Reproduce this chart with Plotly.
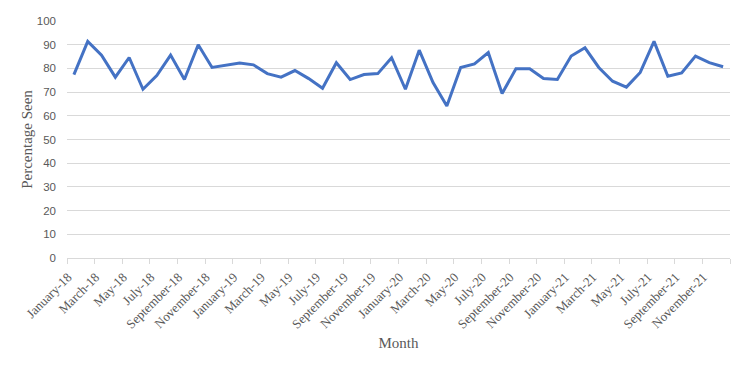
import plotly.graph_objects as go

month_names = ["January", "February", "March", "April", "May", "June", "July",
               "August", "September", "October", "November", "December"]
years = ["18", "19", "20", "21"]
months = [f"{m}-{y}" for y in years for m in month_names]

percentage_seen = [
    77.4, 91.4, 85.6, 76.3, 84.6, 71.2, 77.0, 85.6, 75.3, 90.0, 80.4, 81.2,
    82.3, 81.5, 77.8, 76.3, 79.1, 75.7, 71.6, 82.4, 75.3, 77.4, 77.8, 84.5,
    71.2, 87.7, 74.0, 64.1, 80.4, 81.9, 86.7, 69.4, 79.8, 79.8, 75.7, 75.3,
    85.2, 88.7, 80.4, 74.6, 72.1, 78.3, 91.4, 76.7, 78.1, 85.2, 82.4, 80.7,
]

y_ticks = list(range(0, 101, 10))

x_index = list(range(len(months)))
label_pos = x_index[::2]
label_text = months[::2]

fig = go.Figure()
fig.add_trace(go.Scatter(
    x=x_index, y=percentage_seen, mode="lines",
    line=dict(color="#4472C4", width=3),
    hoverinfo="skip", showlegend=False,
))

fig.update_layout(
    width=750, height=365,
    margin=dict(l=59, r=28, t=7, b=115),
    plot_bgcolor="white", paper_bgcolor="white",
    xaxis=dict(
        range=[-0.5, len(months) - 0.5],
        tickmode="array", tickvals=label_pos, ticktext=label_text,
        tickangle=-45, ticks="", showgrid=False, zeroline=False,
        showline=False, ticklabelstandoff=8, ticklabelshift=-6,
        tickfont=dict(family="Liberation Serif", size=13, color="#595959"),
        minor=dict(tick0=-0.5, dtick=2, ticks="outside", ticklen=5,
                   tickcolor="#d9d9d9", tickwidth=1, showgrid=False),
        title=dict(text="Month", standoff=6,
                   font=dict(family="Liberation Serif", size=15, color="#595959")),
    ),
    yaxis=dict(
        range=[0, 100], tickmode="array", tickvals=y_ticks,
        showgrid=True, gridcolor="#d9d9d9", gridwidth=1,
        zeroline=True, zerolinecolor="#d9d9d9", zerolinewidth=1,
        showline=False, ticks="", ticklabelstandoff=10,
        tickfont=dict(family="Liberation Sans", size=11.5, color="#595959"),
        title=dict(text="Percentage Seen", standoff=0,
                   font=dict(family="Liberation Serif", size=15, color="#595959")),
    ),
)

fig.write_html("out.html")
